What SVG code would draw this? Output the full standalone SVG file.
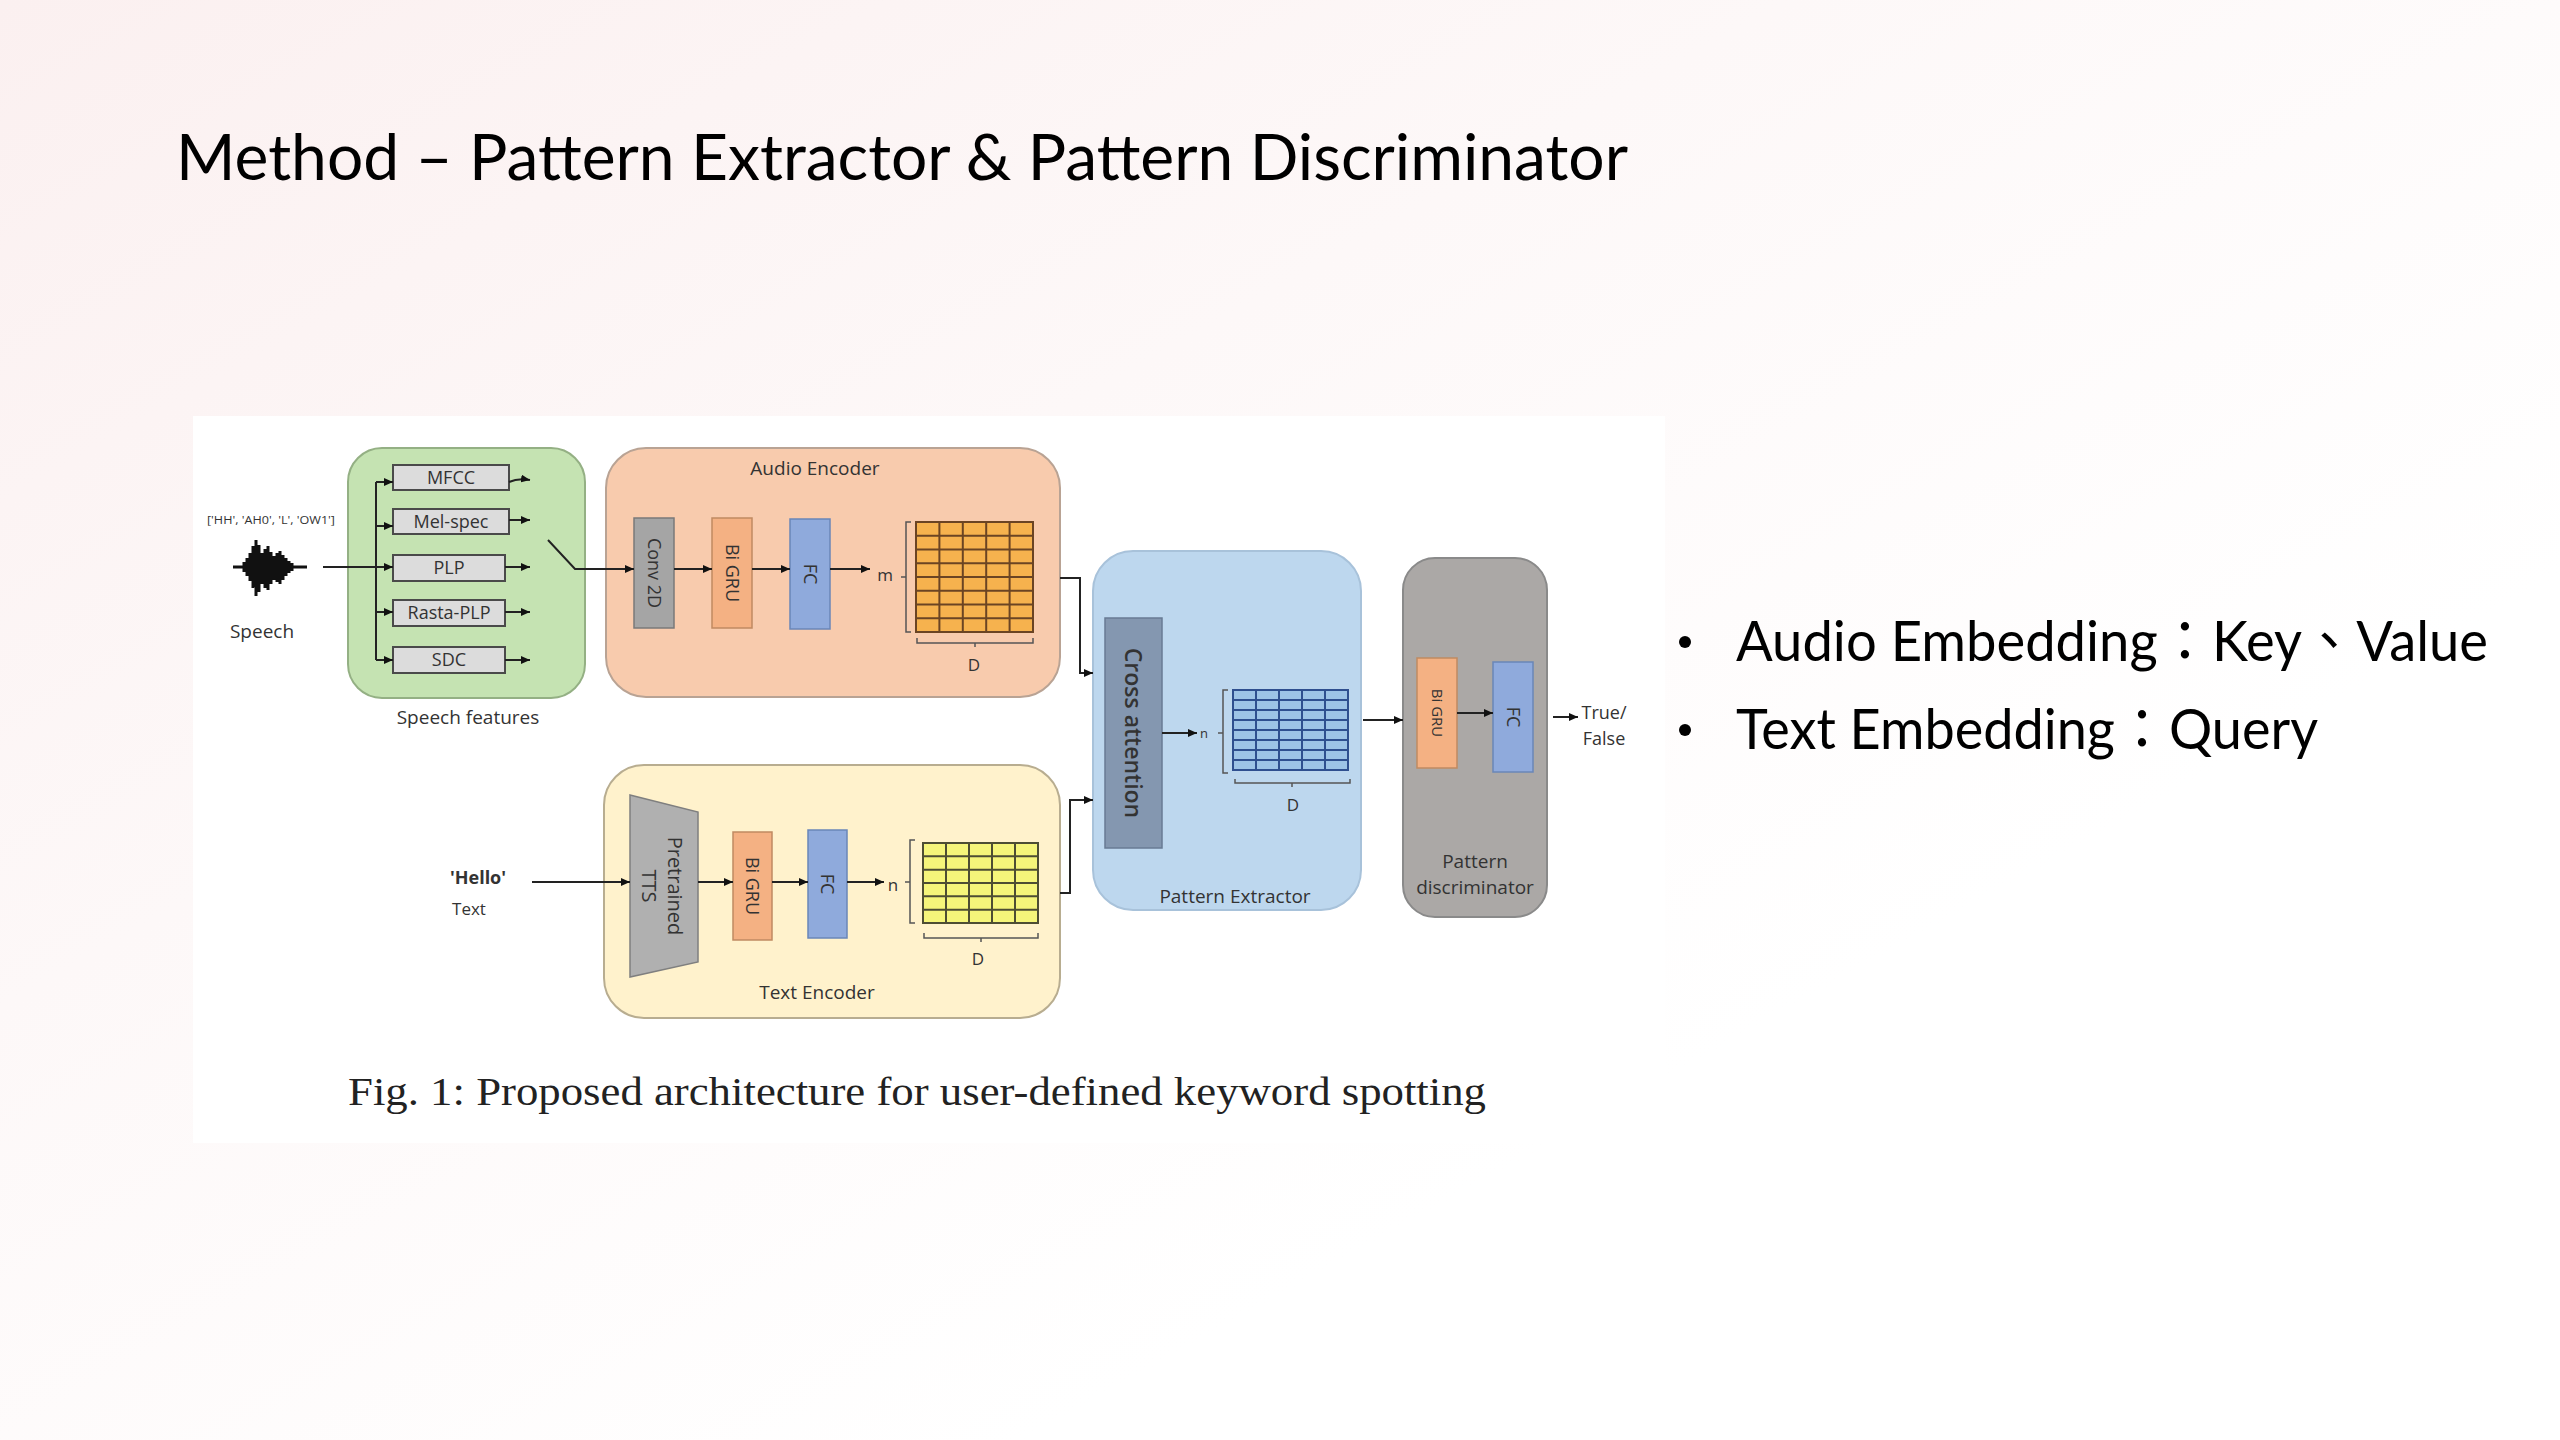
<svg xmlns="http://www.w3.org/2000/svg" width="2560" height="1440" viewBox="0 0 2560 1440">
<defs>
<linearGradient id="bg" x1="0" y1="0" x2="0.7" y2="0.7">
<stop offset="0" stop-color="#fbf0f0"/>
<stop offset="0.5" stop-color="#fdf8f8"/>
<stop offset="1" stop-color="#ffffff"/>
</linearGradient>
<marker id="ah" viewBox="0 0 8 7" refX="8" refY="3.5" markerWidth="9" markerHeight="8" markerUnits="userSpaceOnUse" orient="auto">
<path d="M0,0 L8,3.5 L0,7 z" fill="#111"/>
</marker>
<style>
.lbl{font-family:"Open Sans","Noto Sans",sans-serif;fill:#333;text-anchor:middle}
.s17{font-size:17px}
.s18{font-size:18px}
.s19{font-size:19px}
.con{fill:none;stroke:#222;stroke-width:2}
.arr{fill:none;stroke:#222;stroke-width:2;marker-end:url(#ah)}
.feat{fill:#dcdcdc;stroke:#4a4a4a;stroke-width:2}
.gru{fill:#f4b183;stroke:#c08a62;stroke-width:1.5}
.fc{fill:#8faadc;stroke:#6a86b8;stroke-width:1.5}
.brk{fill:none;stroke:#555;stroke-width:1.5}
</style>
</defs>
<rect x="0" y="0" width="2560" height="1440" fill="url(#bg)"/>
<text x="176" y="180" font-family="Lato,'Noto Sans',sans-serif" font-size="64" fill="#000" textLength="1452" lengthAdjust="spacingAndGlyphs">Method – Pattern Extractor &amp; Pattern Discriminator</text>
<g id="bullets" font-family="Lato,'Noto Sans CJK TC','Noto Sans',sans-serif" font-size="56" fill="#000">
<circle cx="1685" cy="642" r="6" fill="#000"/>
<text x="1736" y="661" textLength="752" lengthAdjust="spacingAndGlyphs">Audio Embedding：Key、Value</text>
<circle cx="1685" cy="730" r="6" fill="#000"/>
<text x="1736" y="749" textLength="582" lengthAdjust="spacingAndGlyphs">Text Embedding：Query</text>
</g>
<rect x="193" y="416" width="1472" height="727" fill="#ffffff"/>
<g id="speech">
<text class="lbl" x="271" y="524" font-size="11" textLength="128" lengthAdjust="spacingAndGlyphs" fill="#333">['HH', 'AH0', 'L', 'OW1']</text>
<path d="M233,567 H307" stroke="#111" stroke-width="3"/>
<path d="M244,562V572 M247,558V576 M250,553V581 M253,546V588 M256,540V596 M259,545V592 M262,553V584 M265,549V588 M268,546V590 M271,552V584 M274,556V580 M277,553V582 M280,551V584 M283,555V580 M286,558V576 M289,561V573 M292,563V571" stroke="#111" stroke-width="3"/>
<text class="lbl s19" x="262" y="638" fill="#555">Speech</text>
</g>
<g id="speech-features">
<rect x="348" y="448" width="237" height="250" rx="34" fill="#c5e3b2" stroke="#94b084" stroke-width="2"/>
<rect class="feat" x="393" y="465" width="116" height="25"/>
<text class="lbl s18" x="451" y="484">MFCC</text>
<rect class="feat" x="393" y="509" width="116" height="25"/>
<text class="lbl s18" x="451" y="528">Mel-spec</text>
<rect class="feat" x="393" y="555" width="112" height="26"/>
<text class="lbl s18" x="449" y="574">PLP</text>
<rect class="feat" x="393" y="600" width="112" height="26"/>
<text class="lbl s18" x="449" y="619">Rasta-PLP</text>
<rect class="feat" x="393" y="647" width="112" height="26"/>
<text class="lbl s18" x="449" y="666">SDC</text>
<text class="lbl s19" x="468" y="724">Speech features</text>
</g>
<g id="audio-encoder">
<rect x="606" y="448" width="454" height="249" rx="40" fill="#f8cbad" stroke="#b9a394" stroke-width="2"/>
<text class="lbl s19" x="815" y="475">Audio Encoder</text>
<rect x="634" y="518" width="40" height="110" fill="#a5a5a5" stroke="#7a7a7a" stroke-width="1.5"/>
<text class="lbl s18" transform="translate(654,573) rotate(90)" y="6">Conv 2D</text>
<rect class="gru" x="712" y="518" width="40" height="110"/>
<text class="lbl s18" transform="translate(732,573) rotate(90)" y="6">Bi GRU</text>
<rect class="fc" x="790" y="519" width="40" height="110"/>
<text class="lbl s18" transform="translate(810,574) rotate(90)" y="6">FC</text>
<text class="lbl s17" x="885" y="581">m</text>
<path class="brk" d="M911,522 H906 V632 H911 M906,577 H901"/>
<rect x="916" y="522" width="117" height="110" fill="#f6b24e"/>
<path d="M939.4,522V632 M962.8,522V632 M986.2,522V632 M1009.6,522V632 M916,535.75H1033 M916,549.5H1033 M916,563.25H1033 M916,577H1033 M916,590.75H1033 M916,604.5H1033 M916,618.25H1033" stroke="#6b4423" stroke-width="2"/>
<rect x="916" y="522" width="117" height="110" fill="none" stroke="#6b4423" stroke-width="2"/>
<path class="brk" d="M917,638 V643 H1033 V638 M975,643 V647"/>
<text class="lbl s17" x="974" y="671">D</text>
</g>
<g id="text-input">
<text class="lbl s18" x="478" y="884" font-weight="bold" fill="#222">'Hello'</text>
<text class="lbl s17" x="469" y="915" fill="#555">Text</text>
</g>
<g id="text-encoder">
<rect x="604" y="765" width="456" height="253" rx="40" fill="#fff2cc" stroke="#b8ad90" stroke-width="2"/>
<text class="lbl s19" x="817" y="999">Text Encoder</text>
<path d="M630,795 L698,812 L698,962 L630,977 Z" fill="#b0b0b0" stroke="#7f7f7f" stroke-width="1.5"/>
<text class="lbl" font-size="20" transform="translate(664,886) rotate(90)"><tspan x="0" y="-4">Pretrained</tspan><tspan x="0" y="22">TTS</tspan></text>
<rect class="gru" x="733" y="832" width="39" height="108"/>
<text class="lbl s18" transform="translate(752,886) rotate(90)" y="6">Bi GRU</text>
<rect class="fc" x="808" y="830" width="39" height="108"/>
<text class="lbl s18" transform="translate(827,884) rotate(90)" y="6">FC</text>
<text class="lbl s17" x="893" y="891">n</text>
<path class="brk" d="M915,840 H910 V923 H915 M910,882 H905"/>
<rect x="923" y="843" width="115" height="80" fill="#f5f57a"/>
<path d="M946,843V923 M969,843V923 M992,843V923 M1015,843V923 M923,856.3H1038 M923,869.7H1038 M923,883H1038 M923,896.3H1038 M923,909.7H1038" stroke="#4d4d33" stroke-width="2"/>
<rect x="923" y="843" width="115" height="80" fill="none" stroke="#4d4d33" stroke-width="2"/>
<path class="brk" d="M924,933 V938 H1038 V933 M981,938 V942"/>
<text class="lbl s17" x="978" y="965">D</text>
</g>
<g id="pattern-extractor">
<rect x="1093" y="551" width="268" height="359" rx="40" fill="#bdd7ee" stroke="#a8c2da" stroke-width="2"/>
<text class="lbl s19" x="1235" y="903">Pattern Extractor</text>
<rect x="1105" y="618" width="57" height="230" fill="#8497b0" stroke="#687b94" stroke-width="1.5"/>
<text class="lbl" font-size="23" font-weight="600" fill="#2a2a2a" transform="translate(1133,733) rotate(90)" y="8">Cross attention</text>
<text class="lbl" font-size="13" x="1204" y="738">n</text>
<path class="brk" d="M1228,690 H1223 V773 H1228 M1223,733 H1218"/>
<rect x="1233" y="690" width="115" height="80" fill="#9dc3e6"/>
<path d="M1256,690V770 M1279,690V770 M1302,690V770 M1325,690V770 M1233,700H1348 M1233,710H1348 M1233,720H1348 M1233,730H1348 M1233,740H1348 M1233,750H1348 M1233,760H1348" stroke="#2f4f8f" stroke-width="2"/>
<rect x="1233" y="690" width="115" height="80" fill="none" stroke="#2f4f8f" stroke-width="2"/>
<path class="brk" d="M1235,779 V783 H1350 V779 M1292,783 V787"/>
<text class="lbl s17" x="1293" y="811">D</text>
</g>
<g id="pattern-discriminator">
<rect x="1403" y="558" width="144" height="359" rx="32" fill="#aba8a6" stroke="#8a8a8a" stroke-width="2"/>
<rect class="gru" x="1417" y="658" width="40" height="110"/>
<text class="lbl" font-size="15" transform="translate(1437,713) rotate(90)" y="5">Bi GRU</text>
<rect class="fc" x="1493" y="662" width="40" height="110"/>
<text class="lbl s18" transform="translate(1513,717) rotate(90)" y="6">FC</text>
<text class="lbl s19" x="1475" y="868">Pattern</text>
<text class="lbl s19" x="1475" y="894">discriminator</text>
</g>
<g id="output">
<text class="lbl s18" x="1604" y="719">True/</text>
<text class="lbl s18" x="1604" y="745">False</text>
</g>
<g id="connectors">
<path class="con" d="M323,567 H376 M376,482 V660"/>
<path class="arr" d="M376,482 H393"/>
<path class="arr" d="M376,526 H393"/>
<path class="arr" d="M376,567 H393"/>
<path class="arr" d="M376,612 H393"/>
<path class="arr" d="M376,660 H393"/>
<path class="arr" d="M509,482 Q518,478 530,480"/>
<path class="arr" d="M509,520 H530"/>
<path class="arr" d="M505,567 H530"/>
<path class="arr" d="M505,612 H530"/>
<path class="arr" d="M505,660 H530"/>
<path class="arr" d="M548,540 L575,569 H634"/>
<path class="arr" d="M674,569 H712"/>
<path class="arr" d="M752,569 H790"/>
<path class="arr" d="M830,569 H870"/>
<path class="arr" d="M532,882 H630"/>
<path class="arr" d="M698,882 H733"/>
<path class="arr" d="M772,882 H808"/>
<path class="arr" d="M847,882 H884"/>
<path class="arr" d="M1060,578 H1080 V673 H1093"/>
<path class="arr" d="M1060,893 H1070 V800 H1093"/>
<path class="arr" d="M1162,733 H1197"/>
<path class="arr" d="M1363,720 H1403"/>
<path class="arr" d="M1457,713 H1493"/>
<path class="arr" d="M1553,717 H1578"/>
</g>
<text x="348" y="1105" font-family="'Liberation Serif',serif" font-size="40" fill="#222" textLength="1138" lengthAdjust="spacingAndGlyphs">Fig. 1: Proposed architecture for user-defined keyword spotting</text>
</svg>
